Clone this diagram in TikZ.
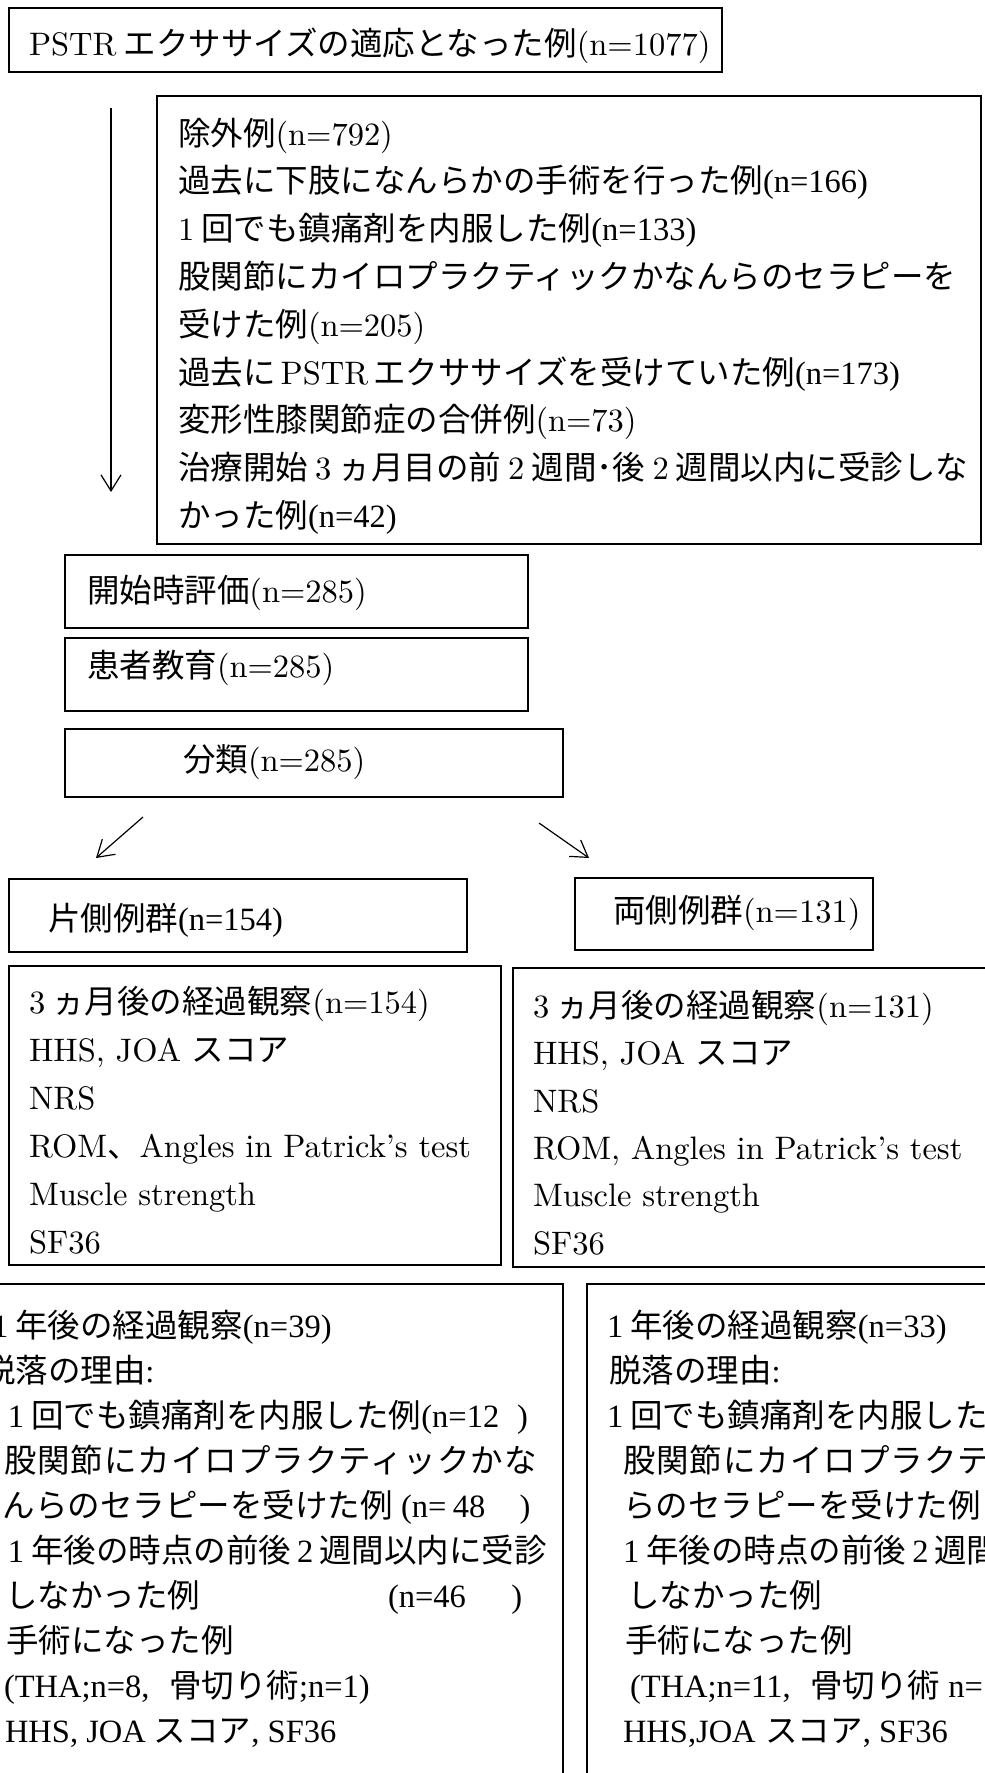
\documentclass[tikz,border=0pt]{standalone}
\usepackage{fontspec}
\setmainfont{lmroman10-regular.otf}
\newfontfamily\jp{Noto Sans CJK JP}
\newfontfamily\jpls{Noto Sans CJK JP}[LetterSpace=3.0]
\newfontfamily\tm{Liberation Serif}
\usetikzlibrary{arrows.meta}
\newcommand\JP[1]{{\jp #1}}
\newcommand\JPL[1]{{\jpls #1}}
\newcommand\jsp{\hspace{0.22em}}
\tikzset{
  box/.style={draw, line width=0.6pt, inner sep=0pt, outer sep=0pt, anchor=north west},
  ln/.style={anchor=base west, inner sep=0pt, outer sep=0pt, font=\fontsize{16.25pt}{19pt}\selectfont},
  lntm/.style={ln, font=\fontsize{16.25pt}{19pt}\selectfont\tm},
  arr/.style={line width=0.6pt, -{Straight Barb[length=8pt,width=10pt,line width=0.6pt]}}
}
\newcommand\boxat[5]{\node[box, minimum width=#4*0.5pt, minimum height=#5*0.5pt] (#1) at (#2,#3) {};}
\begin{document}
\begin{tikzpicture}[x=0.5pt,y=-0.5pt]
\path[use as bounding box] (0,0) rectangle (985,1773);
\clip (0,0) rectangle (985,1773);
\fill[white] (0,0) rectangle (985,1773);

% boxes
\boxat{b1}{9}{8}{713}{64}
\boxat{bex}{157}{96}{824}{448}
\boxat{bstart}{65}{555}{463}{73}
\boxat{bedu}{65}{638}{463}{73}
\boxat{bcls}{65}{729}{498}{68}
\boxat{buni}{9}{879}{458}{73}
\boxat{bbil}{575}{878}{298}{72}
\boxat{b3l}{9}{966}{492}{299}
\boxat{b3r}{513}{968}{480}{299}
\boxat{b1l}{-12}{1284}{575}{520}
\boxat{b1r}{587}{1284}{420}{520}

% texts
\node[ln] (t1) at (29,55) {PSTR\jsp\JP{エクササイズの適応となった例}(n=1077)};

\node[ln] (ex1) at (178,145) {\JP{除外例}(n=792)};
\node[ln] (ex2) at (178,192.8) {\JP{過去に下肢になんらかの手術を行った例}{\tm (n=166)}};
\node[ln] (ex3) at (178,240.6) {1\jsp\JP{回でも鎮痛剤を内服した例}{\tm (n=133)}};
\node[ln] (ex4) at (178,288.4) {\JP{股関節にカイロプラクティックかなんらのセラピーを}};
\node[ln] (ex5) at (178,336.2) {\JP{受けた例}(n=205)};
\node[ln] (ex6) at (178,384) {\JP{過去に}\hspace{0.16em}PSTR\hspace{0.16em}\JP{エクササイズを受けていた例}{\tm (n=173)}};
\node[ln] (ex7) at (178,431.8) {\JP{変形性膝関節症の合併例}(n=73)};
\node[ln] (ex8) at (178,479.6) {\JP{治療開始}\jsp 3\jsp\JP{ヵ月目の前}\jsp 2\jsp\JP{週間･後}\jsp 2\jsp\JP{週間以内に受診しな}};
\node[ln] (ex9) at (178,527.4) {\JP{かった例}{\tm (n=42)}};

\node[ln] (tstart) at (87,602) {\JP{開始時評価}(n=285)};
\node[ln] (tedu) at (87,677) {\JP{患者教育}(n=285)};
\node[ln] (tcls) at (183,771) {\JP{分類}(n=285)};
\node[ln] (tuni) at (48,930) {\JP{片側例群}{\tm (n=154)}};
\node[ln] (tbil) at (613,922) {\JP{両側例群}(n=131)};

\node[ln] (l3a) at (29,1013) {3\jsp\JP{ヵ月後の経過観察}(n=154)};
\node[ln] (l3b) at (29,1061) {HHS, JOA \JP{スコア}};
\node[ln] (l3c) at (29,1109) {NRS};
\node[ln] (l3d) at (29,1157) {ROM\JP{、}Angles in Patrick’s test};
\node[ln] (l3e) at (29,1205) {Muscle strength};
\node[ln] (l3f) at (29,1253) {SF36};

\node[ln] (r3a) at (533,1017) {3\jsp\JP{ヵ月後の経過観察}(n=131)};
\node[ln] (r3b) at (533,1064) {HHS, JOA \JP{スコア}};
\node[ln] (r3c) at (533,1112) {NRS};
\node[ln] (r3d) at (533,1159) {ROM, Angles in Patrick’s test};
\node[ln] (r3e) at (533,1206) {Muscle strength};
\node[ln] (r3f) at (533,1254) {SF36};

\node[lntm] (l1a) at (-8,1337) {1\jsp\JP{年後の経過観察}(n=39)};
\node[lntm] (l1b) at (-17,1382) {\JP{脱落の理由}:};
\node[lntm] (l1c) at (8,1427) {1\jsp\JP{回でも鎮痛剤を内服した例}(n=12\hspace{0.55em})};
\node[lntm] (l1d) at (4,1472) {\JPL{股関節にカイロプラクティックかな}};
\node[lntm] (l1e) at (3,1517) {\JP{んらのセラピーを受けた例} (n=\hspace{0.2em}48\hspace{1.05em})};
\node[lntm] (l1f) at (8,1562) {1\jsp\JP{年後の時点の前後}\hspace{0.18em}2\hspace{0.18em}\JP{週間以内に受診}};
\node[lntm] (l1g) at (5,1607) {\JP{しなかった例}\hspace{94pt}(n=46\hspace{1.4em})};
\node[lntm] (l1h) at (6,1652) {\JP{手術になった例}};
\node[lntm] (l1i) at (4,1697) {(THA;n=8,\hspace{0.6em}\JP{骨切り術};n=1)};
\node[lntm] (l1j) at (5,1742) {HHS, JOA \JP{スコア}, SF36};

\node[lntm] (r1a) at (607,1337) {1\jsp\JP{年後の経過観察}(n=33)};
\node[lntm] (r1b) at (609,1382) {\JP{脱落の理由}:};
\node[lntm] (r1c) at (607,1427) {1\jsp\JP{回でも鎮痛剤を内服した例}};
\node[lntm] (r1d) at (623,1472) {\JPL{股関節にカイロプラクティ}};
\node[lntm] (r1e) at (623,1517) {\JP{らのセラピーを受けた例}};
\node[lntm] (r1f) at (623,1562) {1\jsp\JP{年後の時点の前後}\hspace{0.18em}2\hspace{0.18em}\JP{週間}};
\node[lntm] (r1g) at (627,1607) {\JP{しなかった例}};
\node[lntm] (r1h) at (625,1652) {\JP{手術になった例}};
\node[lntm] (r1i) at (630,1697) {(THA;n=11,\hspace{0.6em}\JP{骨切り術} n=};
\node[lntm] (r1j) at (623,1742) {HHS,JOA\hspace{0.3em}\JP{スコア}, SF36};

% arrows
\coordinate (a1s) at (111,108);
\coordinate (a1e) at (111,492);
\coordinate (a2s) at (143,817);
\coordinate (a2e) at (96,858);
\coordinate (a3s) at (539,823);
\coordinate (a3e) at (589,858);
\draw[arr] (a1s) -- (a1e);
\draw[arr] (a2s) -- (a2e);
\draw[arr] (a3s) -- (a3e);
\end{tikzpicture}
\end{document}
